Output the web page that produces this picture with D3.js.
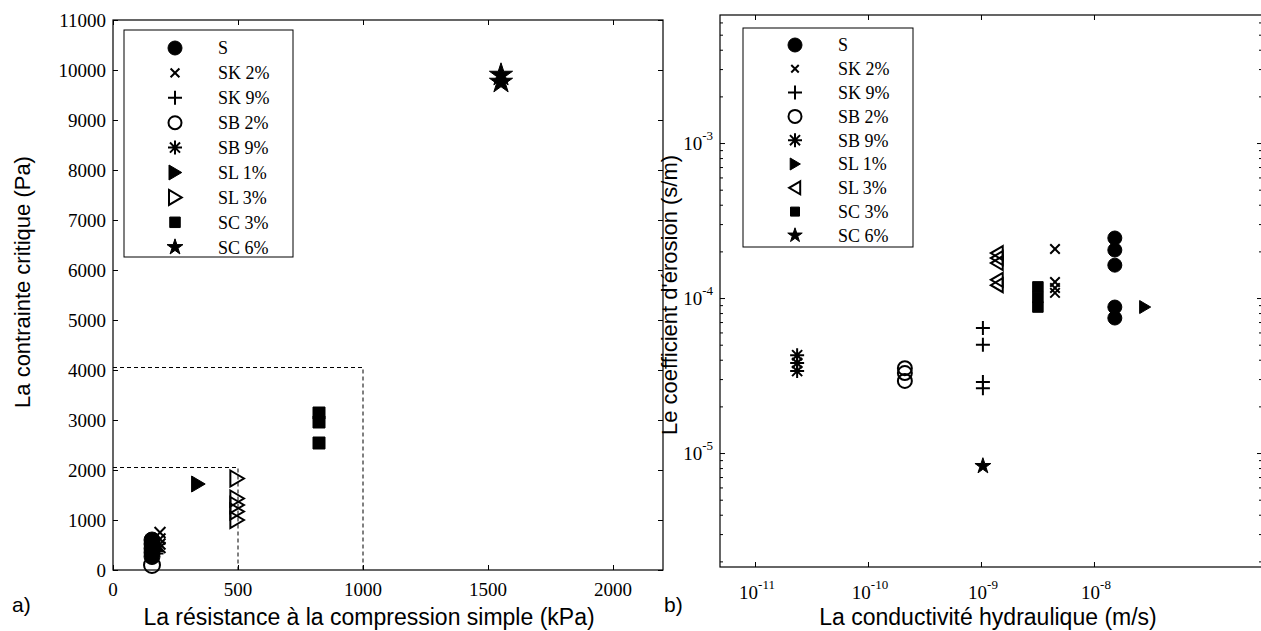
<!DOCTYPE html>
<html>
<head>
<meta charset="utf-8">
<script src="https://cdn.jsdelivr.net/npm/d3@7"></script>
<style>
  body { margin: 0; background: #fff; }
  svg { display: block; }
</style>
</head>
<body>
<div id="chart"></div>
<script>
var width = 1261;
var height = 631;

// legend entries (same order in both plots)
var seriesNames = ["S", "SK 2%", "SK 9%", "SB 2%", "SB 9%", "SL 1%", "SL 3%", "SC 3%", "SC 6%"];
var markersA = ["o", "x", "+", "c", "*", ">", ">o", "s", "p"];
var markersB = ["o", "x", "+", "c", "*", ">", "<o", "s", "p"];

// plot a) : resistance (kPa) vs critical stress (Pa)
var aS   = [[156, 600], [156, 520], [156, 430], [156, 350], [156, 270]];
var aSK2 = [[188, 750], [188, 620], [188, 520], [188, 450]];
var aSK9 = [[170, 380], [170, 330]];
var aSB2 = [[156, 100]];
var aSB9 = [[165, 470], [165, 420]];
var aSL1 = [[340, 1720]];
var aSL3 = [[495, 1830], [495, 1430], [495, 1300], [495, 1170], [495, 1000]];
var aSC3 = [[824, 3140], [824, 2960], [824, 2540]];
var aSC6 = [[1552, 9900], [1552, 9760]];
var seriesA = [aS, aSK2, aSK9, aSB2, aSB9, aSL1, aSL3, aSC3, aSC6];

// dashed zoom boxes (x corner, y corner)
var zoomBoxes = [[500, 2050], [1000, 4050]];

var xTicksA = [0, 500, 1000, 1500, 2000];
var yTicksA = [0, 1000, 2000, 3000, 4000, 5000, 6000, 7000, 8000, 9000, 10000, 11000];

// plot b) : hydraulic conductivity (m/s) vs erosion coefficient (s/m)
var bS   = [[1.53e-8, 2.44e-4], [1.53e-8, 2.04e-4], [1.53e-8, 1.63e-4], [1.53e-8, 8.75e-5], [1.53e-8, 7.43e-5]];
var bSK2 = [[4.52e-9, 2.07e-4], [4.52e-9, 1.27e-4], [4.52e-9, 1.16e-4], [4.52e-9, 1.08e-4]];
var bSK9 = [[1.04e-9, 6.4e-5], [1.04e-9, 5.0e-5], [1.04e-9, 2.87e-5], [1.04e-9, 2.62e-5]];
var bSB2 = [[2.12e-10, 3.53e-5], [2.12e-10, 3.28e-5], [2.12e-10, 2.92e-5]];
var bSB9 = [[2.36e-11, 4.28e-5], [2.36e-11, 3.81e-5], [2.36e-11, 3.38e-5]];
var bSL1 = [[2.82e-8, 8.75e-5]];
var bSL3 = [[1.39e-9, 1.95e-4], [1.39e-9, 1.81e-4], [1.39e-9, 1.68e-4], [1.39e-9, 1.31e-4], [1.39e-9, 1.21e-4]];
var bSC3 = [[3.19e-9, 1.18e-4], [3.19e-9, 1.01e-4], [3.19e-9, 8.75e-5]];
var bSC6 = [[1.04e-9, 8.24e-6]];
var seriesB = [bS, bSK2, bSK9, bSB2, bSB9, bSL1, bSL3, bSC3, bSC6];

var xTicksB = [1e-11, 1e-10, 1e-9, 1e-8];
var yTicksB = [1e-5, 1e-4, 1e-3];

var serif = "'Liberation Serif', 'Times New Roman', serif";
var sans = "'Liberation Sans', Arial, sans-serif";

var svg = d3.select("#chart")
    .append("svg")
    .attr("width", width)
    .attr("height", height)
    .style("font-family", serif);

// marker path, s = half size
function markerPath(type, s) {
    if (type == "x" || type == "+" || type == "*") {
        var d = "";
        if (type != "x") d += `M${-s},0L${s},0M0,${-s}L0,${s}`;
        if (type != "+") {
            var k = type == "*" ? s * 0.72 : s;
            d += `M${-k},${-k}L${k},${k}M${-k},${k}L${k},${-k}`;
        }
        return d;
    }
    if (type[0] == ">") return `M${-s * 0.8},${-s}L${s * 0.9},0L${-s * 0.8},${s}Z`;
    if (type[0] == "<") return `M${s * 0.8},${-s}L${-s * 0.9},0L${s * 0.8},${s}Z`;
    if (type == "s") return `M${-s},${-s}H${s}V${s}H${-s}Z`;
    if (type == "p") return d3.symbol(d3.symbolStar, s * s * 2.6)();
    return d3.symbol(d3.symbolCircle, Math.PI * s * s)();
}

function drawMarker(g, type, x, y, s) {
    var filled = !(type == "x" || type == "+" || type == "*" || type == "c" || type.length > 1);
    var sz = s;
    if (type == "s") sz = s * 0.75;
    if (type == "x") sz = s * 0.68;
    g.append("path")
        .attr("d", markerPath(type, sz))
        .attr("transform", `translate(${x},${y})`)
        .attr("fill", filled ? "#000" : "none")
        .attr("stroke", "#000")
        .attr("stroke-width", filled ? 1 : 2)
        .attr("stroke-linejoin", "miter");
}

function drawLegend(box, markers, mx, tx, y0, dy, sizes) {
    svg.append("rect")
        .attr("x", box.x).attr("y", box.y)
        .attr("width", box.w).attr("height", box.h)
        .attr("fill", "#fff").attr("stroke", "#000").attr("stroke-width", 1);
    seriesNames.forEach(function (name, i) {
        drawMarker(svg, markers[i], mx, y0 + i * dy, sizes[i]);
        svg.append("text")
            .attr("x", tx).attr("y", y0 + i * dy)
            .attr("dy", "0.35em")
            .style("font-family", serif)
            .style("font-size", "18px")
            .text(name);
    });
}

function frameAxes(g, x, y, f, xt, yt, yMinor) {
    g.append("g").attr("transform", `translate(0,${f.bottom})`)
        .call(d3.axisBottom(x).tickValues(xt).tickSizeInner(-5).tickSizeOuter(0).tickFormat(""));
    g.append("g").attr("transform", `translate(0,${f.top})`)
        .call(d3.axisTop(x).tickValues(xt).tickSizeInner(-5).tickSizeOuter(0).tickFormat(""));
    [[f.left, d3.axisLeft], [f.right, d3.axisRight]].forEach(function (side) {
        g.append("g").attr("transform", `translate(${side[0]},0)`)
            .call(side[1](y).tickValues(yt).tickSizeInner(-5).tickSizeOuter(0).tickFormat(""));
        if (yMinor)
            g.append("g").attr("transform", `translate(${side[0]},0)`)
                .call(side[1](y).tickValues(yMinor).tickSizeInner(-3).tickSizeOuter(0).tickFormat(""));
    });
    g.selectAll(".domain").remove();
    g.append("rect")
        .attr("x", f.left).attr("y", f.top)
        .attr("width", f.right - f.left).attr("height", f.bottom - f.top)
        .attr("fill", "none").attr("stroke", "#000").attr("stroke-width", 1.2);
}

function label(x, y, txt, rot, size) {
    var t = svg.append("text")
        .attr("text-anchor", "middle")
        .style("font-family", sans)
        .style("font-size", size + "px")
        .text(txt);
    if (rot) t.attr("transform", `translate(${x},${y}) rotate(-90)`);
    else t.attr("x", x).attr("y", y);
    return t;
}

// ---------- plot a) ----------
var fa = { left: 113, right: 663, top: 20, bottom: 570 };
var xA = d3.scaleLinear().domain([0, 2200]).range([fa.left, fa.right]);
var yA = d3.scaleLinear().domain([0, 11000]).range([fa.bottom, fa.top]);

var gA = svg.append("g");
frameAxes(gA, xA, yA, fa, xTicksA, yTicksA, null);

xTicksA.forEach(function (v) {
    svg.append("text").attr("x", xA(v)).attr("y", fa.bottom + 26)
        .attr("text-anchor", "middle")
        .style("font-family", serif).style("font-size", "19px")
        .text(v);
});
yTicksA.forEach(function (v) {
    svg.append("text").attr("x", fa.left - 7).attr("y", yA(v)).attr("dy", "0.35em")
        .attr("text-anchor", "end")
        .style("font-family", serif).style("font-size", "19px")
        .text(v);
});

zoomBoxes.forEach(function (b) {
    gA.append("path")
        .attr("d", `M${xA(0)},${yA(b[1])}H${xA(b[0])}V${yA(0)}`)
        .attr("fill", "none").attr("stroke", "#000")
        .attr("stroke-width", 1).attr("stroke-dasharray", "4,3");
});

seriesA.forEach(function (pts, i) {
    pts.forEach(function (p) {
        drawMarker(gA, markersA[i], xA(p[0]), yA(p[1]), 8);
    });
});

drawLegend({ x: 124, y: 30, w: 169, h: 227 }, markersA, 175, 218, 48, 24.9,
    [7, 6.5, 7, 6.5, 7, 7.5, 7.5, 7, 5.5]);

label(30, 282, "La contrainte critique (Pa)", true, 22);
label(369, 625, "La résistance à la compression simple (kPa)", false, 23);
svg.append("text").attr("x", 12).attr("y", 612)
    .style("font-family", sans).style("font-size", "21px").text("a)");

// ---------- plot b) ----------
var fb = { left: 720, right: 1262, top: 15, bottom: 567 };
var xB = d3.scaleLog().domain([4.9e-12, 3.07e-7]).range([fb.left, fb.right]);
var yB = d3.scaleLog().domain([1.84e-6, 6.7e-3]).range([fb.bottom, fb.top]);

var gB = svg.append("g");
var yMinor = yB.ticks().filter(function (v) { return yTicksB.indexOf(v) < 0; });
frameAxes(gB, xB, yB, fb, xTicksB, yTicksB, yMinor);

// power-of-ten labels
function powLabel(x, y, v, anchor) {
    var e = Math.round(Math.log10(v));
    var t = svg.append("text")
        .attr("x", x).attr("y", y)
        .attr("text-anchor", anchor)
        .style("font-family", serif)
        .style("font-size", "19px");
    t.append("tspan").text("10");
    t.append("tspan").attr("dy", -10).style("font-size", "13px").text(String(e));
}
xTicksB.forEach(function (v) { powLabel(xB(v) + 2, 599, v, "middle"); });
yTicksB.forEach(function (v) { powLabel(fb.left - 7, yB(v) + 7, v, "end"); });

seriesB.forEach(function (pts, i) {
    pts.forEach(function (p) {
        drawMarker(gB, markersB[i], xB(p[0]), yB(p[1]), i == 8 ? 5.5 : (i == 5 ? 6.5 : 7));
    });
});

drawLegend({ x: 743, y: 28, w: 170, h: 219 }, markersB, 795, 838, 45, 23.8,
    [7, 5.5, 7, 6.5, 7, 6, 6.5, 6, 5]);

label(677, 295, "Le coefficient d'érosion (s/m)", true, 22);
label(988, 625, "La conductivité hydraulique (m/s)", false, 23);
svg.append("text").attr("x", 664).attr("y", 612)
    .style("font-family", sans).style("font-size", "21px").text("b)");
</script>
</body>
</html>
